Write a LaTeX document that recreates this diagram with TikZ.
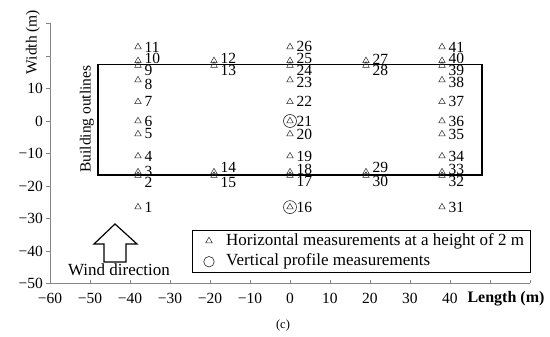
\documentclass[tikz,border=0pt]{standalone}
\usepackage{fontspec}
\setmainfont{Liberation Serif}
\usetikzlibrary{shapes.geometric, positioning}

\definecolor{axisgray}{RGB}{134,134,134}

\tikzset{
  axisline/.style={draw=axisgray, line width=0.8pt},
  meas/.style={draw=black!85, regular polygon, regular polygon sides=3, minimum size=7.5pt, inner sep=0pt, line width=0.5pt},
  vprof/.style={draw=black!85, circle, minimum size=13pt, inner sep=0pt, line width=0.6pt},
  ptlabel/.style={anchor=west, inner sep=0pt, font=\fontsize{15.5}{16}\selectfont},
  ticklabel/.style={inner sep=0pt, font=\fontsize{15.5}{16}\selectfont},
}

\begin{document}
\begin{tikzpicture}[x=4pt, y=3.25pt]
  \useasboundingbox (-72.5,-66.4615) rectangle (65,37.2308);

  % axes
  \draw[axisline] (-60,30) -- (-60,-50) -- (60,-50);
  \foreach \t in {-60,-50,...,60}
    \draw[axisline] (-60+\t+60,-50) -- ++(0,3pt);
  \foreach \t in {-50,-40,...,30}
    \draw[axisline] (-60,\t) -- ++(-4pt,0);
  \foreach \t in {-60,-50,...,40}
    \node[ticklabel] (xt\t) at (\t,-50) [yshift=-15pt] {\ifnum\t<0 −\the\numexpr-\t\relax\else\t\fi};
  \foreach \t in {-50,-40,...,10}
    \node[ticklabel, anchor=east] (yt\t) at (-60,\t) [xshift=-7pt] {\ifnum\t<0 −\the\numexpr-\t\relax\else\t\fi};
  \node[ticklabel, font=\fontsize{16}{17}\selectfont\bfseries] (xlabel) at (54,-50) [yshift=-15pt] {Length (m)};
  \node[ticklabel, rotate=90] (ylabel) at (-64.25,24.3) {Width (m)};

  % building
  \draw[line width=1.4pt] (-48,-16.6) rectangle (48,17.4);
  \node[ticklabel, rotate=90] (bldg) at (-50.75,0.6) {Building outlines};

  % measurement points: number/x/y/label shift
  \foreach \n/\x/\y/\dy in {
      1/-38/-26.5/0, 2/-38/-16.8/-7, 3/-38/-15.7/1, 4/-38/-10.8/0, 5/-38/-4/0, 6/-38/0/0,
      7/-38/5.9/0, 8/-38/12.6/-4, 9/-38/17.1/-5, 10/-38/18.5/2, 11/-38/22.8/0,
      12/-19/18.5/3, 13/-19/17.1/-5, 14/-19/-15.7/5, 15/-19/-16.8/-7,
      16/0/-26.5/0, 17/0/-16.8/-6, 18/0/-15.7/3, 19/0/-10.8/0, 20/0/-4/0, 21/0/0/0,
      22/0/5.9/0, 23/0/12.6/-2, 24/0/17.1/-5, 25/0/18.5/2, 26/0/22.8/0,
      27/19/18.5/2, 28/19/17.1/-5, 29/19/-15.7/5, 30/19/-16.8/-6,
      31/38/-26.5/0, 32/38/-16.8/-6, 33/38/-15.7/3, 34/38/-10.8/0, 35/38/-4/0, 36/38/0/0,
      37/38/5.9/0, 38/38/12.6/-2, 39/38/17.1/-5, 40/38/18.5/2, 41/38/22.8/0}
  {
    \node[meas] (p\n) at (\x,\y) {};
    \node[ptlabel] (l\n) at (p\n) [xshift=6.5pt, yshift=\dy pt] {\n};
  }
  \node[vprof] (v16) at (p16) {};
  \node[vprof] (v21) at (p21) {};

  % wind
  \draw[line width=1.2pt, line join=miter]
    (-43.75,-31.69) -- (-38.25,-37.85) -- (-41,-37.85) -- (-41,-43.38)
    -- (-46.5,-43.38) -- (-46.5,-37.85) -- (-49,-37.85) -- cycle;
  \node[ticklabel, font=\fontsize{17}{18}\selectfont] (wind) at (-42.75,-45.85) {Wind direction};

  % legend
  \draw[line width=0.9pt] (-24.5,-33.54) rectangle (60,-46.46);
  \node[meas] (legtri) at (-20.25,-36.9) {};
  \node[vprof, minimum size=10.5pt] (legcirc) at (-20.25,-43.3) {};
  \node[ptlabel, font=\fontsize{17}{18}\selectfont] (legh) at (-16,-36.9) {Horizontal measurements at a height of 2 m};
  \node[ptlabel, font=\fontsize{17}{18}\selectfont] (legv) at (-16,-43.3) {Vertical profile measurements};

  \node[ticklabel, font=\fontsize{12.5}{13}\selectfont] (cap) at (-1.75,-62.77) {(c)};
\end{tikzpicture}
\end{document}
